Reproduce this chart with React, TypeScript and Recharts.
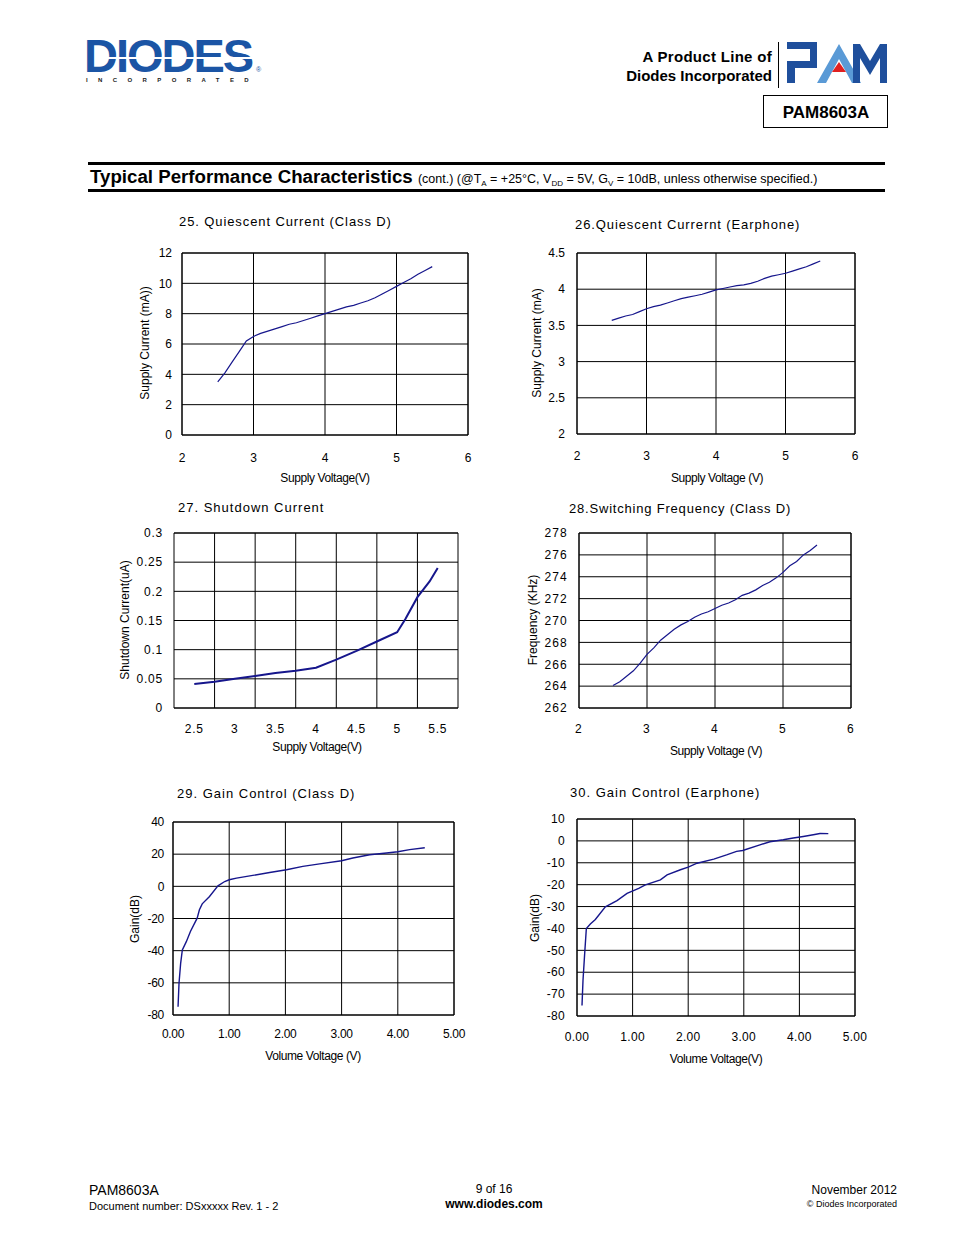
import React from 'react'
import { CartesianGrid, Line, LineChart, ReferenceArea, ReferenceLine, XAxis, YAxis } from 'recharts'

const FONT = '"Liberation Sans", Arial, Helvetica, sans-serif'
const NAVY = '#16168c'

// 25. Quiescent Current (Class D)
const qdVolt = [2.5, 2.6, 2.7, 2.8, 2.9, 3.0, 3.1, 3.2, 3.3, 3.4, 3.5, 3.6, 3.7, 3.8, 3.9, 4.0, 4.1, 4.2, 4.3, 4.4, 4.5, 4.6, 4.7, 4.8, 4.9, 5.0, 5.1, 5.2, 5.3, 5.4, 5.5]
const qdCurrent = [3.5, 4.1, 4.8, 5.5, 6.2, 6.5, 6.7, 6.85, 7.0, 7.15, 7.3, 7.4, 7.55, 7.7, 7.85, 8.0, 8.15, 8.3, 8.45, 8.55, 8.7, 8.85, 9.05, 9.3, 9.55, 9.8, 10.05, 10.3, 10.6, 10.85, 11.1]

// 26. Quiescent Current (Earphone)
const qeVolt = [2.5, 2.6, 2.7, 2.8, 2.9, 3.0, 3.1, 3.2, 3.3, 3.4, 3.5, 3.6, 3.7, 3.8, 3.9, 4.0, 4.1, 4.2, 4.3, 4.4, 4.5, 4.6, 4.7, 4.8, 4.9, 5.0, 5.1, 5.2, 5.3, 5.4, 5.5]
const qeCurrent = [3.57, 3.6, 3.63, 3.65, 3.69, 3.73, 3.76, 3.78, 3.81, 3.84, 3.87, 3.89, 3.91, 3.93, 3.96, 3.99, 4.01, 4.03, 4.05, 4.06, 4.08, 4.11, 4.15, 4.18, 4.2, 4.22, 4.25, 4.28, 4.31, 4.35, 4.39]

// 27. Shutdown Current
const sdVolt = [2.5, 2.75, 3.0, 3.25, 3.5, 3.75, 4.0, 4.25, 4.5, 4.75, 5.0, 5.1, 5.25, 5.4, 5.5]
const sdCurrent = [0.041, 0.045, 0.05, 0.055, 0.06, 0.064, 0.069, 0.083, 0.098, 0.114, 0.13, 0.152, 0.19, 0.217, 0.24]
const sdXTicks = [2.5, 3, 3.5, 4, 4.5, 5, 5.5]
const sdGridX = [2.75, 3.25, 3.75, 4.25, 4.75, 5.25]

// 28. Switching Frequency (Class D)
const sfVolt = [2.5, 2.6, 2.7, 2.8, 2.9, 3.0, 3.1, 3.2, 3.3, 3.4, 3.5, 3.6, 3.7, 3.8, 3.9, 4.0, 4.1, 4.2, 4.3, 4.4, 4.5, 4.6, 4.7, 4.8, 4.9, 5.0, 5.1, 5.2, 5.3, 5.4, 5.5]
const sfFreq = [264.05, 264.4, 264.9, 265.4, 266.1, 266.9, 267.5, 268.2, 268.7, 269.2, 269.6, 269.9, 270.3, 270.6, 270.8, 271.1, 271.4, 271.6, 271.9, 272.3, 272.5, 272.8, 273.2, 273.5, 273.9, 274.4, 275.0, 275.4, 276.0, 276.4, 276.9]

// 29. Gain Control (Class D)
const gdVolt = [0.09, 0.107, 0.136, 0.166, 0.237, 0.31, 0.43, 0.47, 0.52, 0.65, 0.8, 0.92, 1.0, 1.13, 1.42, 1.72, 2.02, 2.31, 2.61, 3.0, 3.2, 3.5, 3.8, 4.0, 4.21, 4.48]
const gdGain = [-74.9, -60.3, -47.9, -39.5, -34.4, -28.1, -19.8, -14.6, -10.9, -6.3, 0.3, 3.0, 4.1, 5.1, 6.8, 8.6, 10.3, 12.4, 14.0, 15.9, 17.6, 19.6, 20.7, 21.5, 22.8, 24.0]

// 30. Gain Control (Earphone)
const geVolt = [0.09, 0.108, 0.138, 0.168, 0.24, 0.33, 0.51, 0.72, 0.9, 1.11, 1.23, 1.5, 1.62, 1.86, 2.0, 2.16, 2.46, 2.69, 2.87, 2.98, 3.29, 3.47, 3.71, 3.89, 4.07, 4.25, 4.37, 4.52]
const geGain = [-75.2, -63.7, -51.5, -40, -38, -35.9, -30.1, -27.3, -24, -21.7, -20.1, -17.8, -15.5, -13.2, -12, -10.2, -8.3, -6.4, -4.8, -4.4, -1.8, -0.4, 0.5, 1.3, 2.0, 2.8, 3.4, 3.3]

const voltTicks = [2, 3, 4, 5, 6]
const volumeTicks = [0, 1, 2, 3, 4, 5]

const zip = (xs: number[], ys: number[]) => xs.map((x, i) => ({ x, y: ys[i] }))

interface Box {
  L: number
  T: number
  W: number
  H: number
  yGap: number
  xGap: number
}

interface PanelProps {
  box: Box
  data: { x: number; y: number }[]
  xDomain: [number, number]
  xTicks: number[]
  yDomain: [number, number]
  yTicks: number[]
  xFmt?: (v: number) => string
  gridX?: number[]
  lineWidth?: number
  spacing?: number
}

function Panel({ box, data, xDomain, xTicks, yDomain, yTicks, xFmt, gridX, lineWidth = 1.2, spacing = 0 }: PanelProps) {
  const yW = 70
  const mt = 10
  const mr = 20
  const xH = 40
  const tick = { fill: '#000', fontSize: 12, fontFamily: FONT, letterSpacing: spacing }
  return (
    <div style={{ position: 'absolute', left: box.L - yW, top: box.T - mt }}>
      <LineChart width={yW + box.W + mr} height={mt + box.H + xH} data={data} margin={{ top: mt, right: mr, left: 0, bottom: 0 }}>
        <CartesianGrid stroke="#000" vertical={!gridX} />
        {gridX?.map((v) => <ReferenceLine key={v} x={v} stroke="#000" />)}
        <XAxis
          type="number"
          dataKey="x"
          domain={xDomain}
          ticks={xTicks}
          interval={0}
          allowDataOverflow
          tickLine={false}
          axisLine={false}
          tickSize={0}
          tickMargin={box.xGap}
          height={xH}
          tick={tick}
          tickFormatter={xFmt}
        />
        <YAxis
          type="number"
          domain={yDomain}
          ticks={yTicks}
          interval={0}
          allowDataOverflow
          tickLine={false}
          axisLine={false}
          tickSize={0}
          tickMargin={box.yGap}
          width={yW}
          tick={tick}
        />
        <ReferenceArea x1={xDomain[0]} x2={xDomain[1]} y1={yDomain[0]} y2={yDomain[1]} fill="none" stroke="#000" strokeWidth={1} />
        <Line type="linear" dataKey="y" stroke={NAVY} strokeWidth={lineWidth} dot={false} isAnimationActive={false} />
      </LineChart>
    </div>
  )
}

interface TxtProps {
  x: number
  y: number
  children: React.ReactNode
  size?: number
  align?: 'left' | 'center' | 'right'
  rotate?: boolean
  bold?: boolean
  spacing?: number
  color?: string
}

function Txt({ x, y, children, size = 12, align = 'center', rotate, bold, spacing = 0, color = '#000' }: TxtProps) {
  const tx = align === 'left' ? '0' : align === 'right' ? '-100%' : '-50%'
  return (
    <div
      style={{
        position: 'absolute',
        left: x,
        top: y,
        transform: `translate(${tx}, -50%)${rotate ? ' rotate(-90deg)' : ''}`,
        transformOrigin: rotate ? 'center' : undefined,
        fontFamily: FONT,
        fontSize: size,
        fontWeight: bold ? 700 : 400,
        letterSpacing: spacing,
        whiteSpace: 'nowrap',
        lineHeight: 1,
        color,
      }}
    >
      {children}
    </div>
  )
}

function Header() {
  return (
    <>
      {/* DIODES logo */}
      <div style={{ position: 'absolute', left: 84, top: 37, height: 38, fontFamily: FONT, fontWeight: 900, fontSize: 47, letterSpacing: -2, color: '#1b55a5', lineHeight: '38px' }}>
        DIODES
      </div>
      <div style={{ position: 'absolute', left: 98, top: 57, width: 156, height: 2, background: '#fff' }} />
      <div style={{ position: 'absolute', left: 256, top: 66, fontFamily: FONT, fontSize: 7, color: '#1b55a5', lineHeight: 1 }}>®</div>
      <div style={{ position: 'absolute', left: 86, top: 77, fontFamily: FONT, fontWeight: 700, fontSize: 6, letterSpacing: 10.4, color: '#222', lineHeight: 1 }}>
        INCORPORATED
      </div>

      <Txt x={772} y={56} size={15} bold align="right" spacing={0.3}>A Product Line of</Txt>
      <Txt x={772} y={75} size={15} bold align="right">Diodes Incorporated</Txt>
      <div style={{ position: 'absolute', left: 778, top: 42, width: 1, height: 46, background: '#000' }} />

      {/* PAM logo */}
      <svg style={{ position: 'absolute', left: 787, top: 42 }} width={100} height={42}>
        <polygon points="0,0 30,0 30,26 8,26 8,41 0,41 0,19 23,19 23,7 0,7" fill="#1f4f9c" />
        <polygon points="30,41 52,2 74,41 65,41 52,17 39,41" fill="#5a9ad6" />
        <polygon points="45,30 52,20 59,30" fill="#e02020" />
        <polygon points="66,41 66,2 73,2 83,19 93,2 100,2 100,41 93,41 93,16 83,33 73,16 73,41" fill="#1f4f9c" />
      </svg>

      <div style={{ position: 'absolute', left: 763, top: 95, width: 123, height: 31, border: '1.5px solid #000' }} />
      <Txt x={826} y={112} size={17} bold>PAM8603A</Txt>

      {/* Section title bar */}
      <div style={{ position: 'absolute', left: 88, top: 162, width: 797, height: 3, background: '#000' }} />
      <div style={{ position: 'absolute', left: 88, top: 189, width: 797, height: 3, background: '#000' }} />
      <Txt x={90} y={178} size={18.7} bold align="left" spacing={0}>
        Typical Performance Characteristics{' '}
        <span style={{ fontSize: 12.5, fontWeight: 400, letterSpacing: 0 }}>
          (cont.) (@T<sub style={{ fontSize: 8 }}>A</sub> = +25°C, V<sub style={{ fontSize: 8 }}>DD</sub> = 5V, G<sub style={{ fontSize: 8 }}>V</sub> = 10dB, unless otherwise specified.)
        </span>
      </Txt>
    </>
  )
}

function Footer() {
  return (
    <>
      <Txt x={89} y={1190} size={14} align="left">PAM8603A</Txt>
      <Txt x={89} y={1206} size={11} align="left">Document number: DSxxxxx Rev. 1 - 2</Txt>
      <Txt x={494} y={1189} size={12}>9 of 16</Txt>
      <Txt x={494} y={1204} size={12} bold>www.diodes.com</Txt>
      <Txt x={897} y={1190} size={12} align="right">November 2012</Txt>
      <Txt x={897} y={1204} size={9} align="right">© Diodes Incorporated</Txt>
    </>
  )
}

export default function App() {
  const fixed2 = (v: number) => v.toFixed(2)
  return (
    <div style={{ position: 'absolute', left: 0, top: 0, width: 954, height: 1235, background: '#fff', overflow: 'hidden' }}>
      <Header />

      {/* 25 */}
      <Txt x={179} y={221} size={13} align="left" spacing={0.9}>25. Quiescent Current (Class D)</Txt>
      <Panel box={{ L: 182, T: 253, W: 286, H: 182, yGap: 10, xGap: 18 }} data={zip(qdVolt, qdCurrent)} xDomain={[2, 6]} xTicks={voltTicks} yDomain={[0, 12]} yTicks={[0, 2, 4, 6, 8, 10, 12]} />
      <Txt x={145} y={343} size={12} rotate>Supply Current (mA))</Txt>
      <Txt x={325} y={478} size={12} spacing={-0.4}>Supply Voltage(V)</Txt>

      {/* 26 */}
      <Txt x={575} y={224} size={13} align="left" spacing={0.9}>26.Quiescent Currernt (Earphone)</Txt>
      <Panel box={{ L: 577, T: 253, W: 278, H: 181, yGap: 12, xGap: 17 }} data={zip(qeVolt, qeCurrent)} xDomain={[2, 6]} xTicks={voltTicks} yDomain={[2, 4.5]} yTicks={[2, 2.5, 3, 3.5, 4, 4.5]} />
      <Txt x={537} y={343} size={12} rotate>Supply Current (mA)</Txt>
      <Txt x={717} y={478} size={12} spacing={-0.4}>Supply Voltage (V)</Txt>

      {/* 27 */}
      <Txt x={178} y={507} size={13} align="left" spacing={1}>27. Shutdown Current</Txt>
      <Panel box={{ L: 174, T: 533, W: 284, H: 175, yGap: 11, xGap: 16 }} data={zip(sdVolt, sdCurrent)} xDomain={[2.25, 5.75]} xTicks={sdXTicks} gridX={sdGridX} yDomain={[0, 0.3]} yTicks={[0, 0.05, 0.1, 0.15, 0.2, 0.25, 0.3]} lineWidth={2} spacing={0.8} />
      <Txt x={125} y={620} size={12} rotate>Shutdown Current(uA)</Txt>
      <Txt x={317} y={747} size={12} spacing={-0.4}>Supply Voltage(V)</Txt>

      {/* 28 */}
      <Txt x={569} y={508} size={13} align="left" spacing={0.8}>28.Switching Frequency (Class D)</Txt>
      <Panel box={{ L: 579, T: 533, W: 272, H: 175, yGap: 11, xGap: 16 }} data={zip(sfVolt, sfFreq)} xDomain={[2, 6]} xTicks={voltTicks} yDomain={[262, 278]} yTicks={[262, 264, 266, 268, 270, 272, 274, 276, 278]} spacing={1.2} />
      <Txt x={533} y={620} size={12} rotate>Frequency (KHz)</Txt>
      <Txt x={716} y={751} size={12} spacing={-0.4}>Supply Voltage (V)</Txt>

      {/* 29 */}
      <Txt x={177} y={793} size={13} align="left" spacing={1}>29. Gain Control (Class D)</Txt>
      <Panel box={{ L: 173, T: 822, W: 281, H: 193, yGap: 9, xGap: 14 }} data={zip(gdVolt, gdGain)} xDomain={[0, 5]} xTicks={volumeTicks} xFmt={fixed2} yDomain={[-80, 40]} yTicks={[-80, -60, -40, -20, 0, 20, 40]} lineWidth={1.4} spacing={-0.3} />
      <Txt x={135} y={919} size={12} rotate>Gain(dB)</Txt>
      <Txt x={313} y={1056} size={12} spacing={-0.4}>Volume Voltage (V)</Txt>

      {/* 30 */}
      <Txt x={570} y={792} size={13} align="left" spacing={1}>30. Gain Control (Earphone)</Txt>
      <Panel box={{ L: 577, T: 819, W: 278, H: 197, yGap: 12, xGap: 16 }} data={zip(geVolt, geGain)} xDomain={[0, 5]} xTicks={volumeTicks} xFmt={fixed2} yDomain={[-80, 10]} yTicks={[-80, -70, -60, -50, -40, -30, -20, -10, 0, 10]} lineWidth={1.4} spacing={0.3} />
      <Txt x={535} y={918} size={12} rotate>Gain(dB)</Txt>
      <Txt x={716} y={1059} size={12} spacing={-0.4}>Volume Voltage(V)</Txt>

      <Footer />
    </div>
  )
}
